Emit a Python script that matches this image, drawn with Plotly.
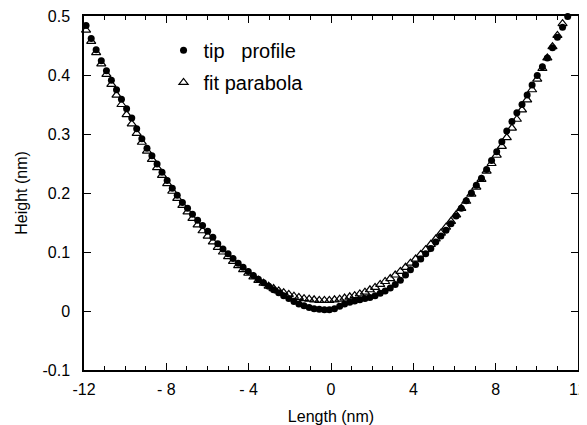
import plotly.graph_objects as go

# Length positions (nm)
length_nm = [
    -11.90, -11.65, -11.41, -11.16, -10.91, -10.67, -10.42, -10.18, -9.93, -9.68,
    -9.44, -9.19, -8.94, -8.70, -8.45, -8.21, -7.96, -7.71, -7.47, -7.22,
    -6.97, -6.73, -6.48, -6.24, -5.99, -5.74, -5.50, -5.25, -5.00, -4.76,
    -4.51, -4.27, -4.02, -3.77, -3.53, -3.28, -3.03, -2.79, -2.54, -2.30,
    -2.05, -1.80, -1.56, -1.31, -1.06, -0.82, -0.57, -0.32, -0.08, 0.17,
    0.42, 0.66, 0.91, 1.15, 1.40, 1.65, 1.89, 2.14, 2.39, 2.63,
    2.88, 3.12, 3.37, 3.62, 3.86, 4.11, 4.36, 4.60, 4.85, 5.09,
    5.34, 5.59, 5.83, 6.08, 6.33, 6.57, 6.82, 7.06, 7.31, 7.56,
    7.80, 8.05, 8.30, 8.54, 8.79, 9.03, 9.28, 9.53, 9.77, 10.02,
    10.27, 10.51, 10.76, 11.00, 11.25, 11.50,
]

# Measured tip profile height (nm)
tip_profile = [
    0.484, 0.462, 0.443, 0.424, 0.407, 0.391, 0.375, 0.359, 0.343, 0.327,
    0.309, 0.292, 0.276, 0.263, 0.249, 0.235, 0.221, 0.208, 0.196, 0.184,
    0.174, 0.164, 0.154, 0.145, 0.135, 0.125, 0.114, 0.105, 0.097, 0.089,
    0.081, 0.074, 0.067, 0.060, 0.054, 0.048, 0.042, 0.036, 0.031, 0.026,
    0.021, 0.016, 0.012, 0.009, 0.006, 0.004, 0.003, 0.002, 0.002, 0.004,
    0.008, 0.012, 0.015, 0.017, 0.019, 0.021, 0.023, 0.026, 0.030, 0.034,
    0.039, 0.045, 0.052, 0.061, 0.070, 0.079, 0.088, 0.097, 0.106, 0.117,
    0.127, 0.137, 0.148, 0.161, 0.174, 0.187, 0.200, 0.213, 0.225, 0.240,
    0.255, 0.270, 0.287, 0.305, 0.321, 0.336, 0.350, 0.366, 0.383, 0.399,
    0.414, 0.429, 0.446, 0.464, 0.481, 0.499,
]

# Fitted parabola height (nm)
fit_parabola = [
    0.476, 0.457, 0.438, 0.419, 0.401, 0.384, 0.366, 0.350, 0.333, 0.317,
    0.301, 0.286, 0.271, 0.257, 0.243, 0.230, 0.216, 0.203, 0.191, 0.179,
    0.168, 0.157, 0.146, 0.136, 0.127, 0.117, 0.108, 0.100, 0.092, 0.084,
    0.077, 0.070, 0.064, 0.058, 0.052, 0.047, 0.042, 0.038, 0.034, 0.031,
    0.028, 0.025, 0.023, 0.021, 0.020, 0.019, 0.018, 0.018, 0.018, 0.019,
    0.020, 0.022, 0.024, 0.026, 0.029, 0.032, 0.036, 0.040, 0.045, 0.050,
    0.055, 0.061, 0.067, 0.074, 0.081, 0.088, 0.096, 0.104, 0.113, 0.122,
    0.132, 0.142, 0.152, 0.163, 0.174, 0.186, 0.198, 0.210, 0.223, 0.237,
    0.250, 0.264, 0.279, 0.294, 0.310, 0.325, 0.341, 0.358, 0.375, 0.393,
    0.411, 0.429, 0.448, 0.467, 0.487, 0.507,
]

x_tick_vals = [-12, -8, -4, 0, 4, 8, 12]
x_tick_text = ["-12", "- 8", "- 4", "0", "4", "8", "12"]
y_tick_vals = [-0.1, 0, 0.1, 0.2, 0.3, 0.4, 0.5]
y_tick_text = ["-0.1", "0", "0.1", "0.2", "0.3", "0.4", "0.5"]

FONT = "Liberation Sans, Arial, Helvetica, sans-serif"

fig = go.Figure()
fig.add_trace(go.Scatter(
    x=length_nm, y=fit_parabola, mode="markers",
    name="fit parabola", legendgroup="b", legendrank=2,
    marker=dict(symbol="triangle-up-open", size=8, color="black",
                line=dict(width=1.2, color="black")),
    cliponaxis=False,
))
fig.add_trace(go.Scatter(
    x=length_nm, y=tip_profile, mode="markers",
    name="tip\u00a0\u00a0\u00a0profile", legendgroup="a", legendrank=1,
    marker=dict(symbol="circle", size=7, color="black"),
    cliponaxis=False,
))

axis_common = dict(
    showline=True, linecolor="black", linewidth=1.5, mirror="ticks",
    ticks="inside", tickcolor="black", tickwidth=1.2, ticklen=7,
    showgrid=False, zeroline=False, automargin=False,
    ticklabeloverflow="allow",
    tickfont=dict(family=FONT, size=16, color="black"),
)

# The page body adds an 8px offset, so the figure is sized to fit the window.
fig.update_layout(
    width=579, height=417,
    margin=dict(l=76, r=9, t=8, b=55),
    paper_bgcolor="white", plot_bgcolor="white",
    font=dict(family=FONT, size=16, color="black"),
    showlegend=True,
    legend=dict(
        x=0.161, y=0.958, xanchor="left", yanchor="top",
        bgcolor="rgba(0,0,0,0)", traceorder="grouped",
        tracegroupgap=3, font=dict(family=FONT, size=20, color="black"),
        itemwidth=30,
    ),
    xaxis=dict(
        range=[-12, 12], tickmode="array", tickvals=x_tick_vals,
        ticktext=x_tick_text, ticklabelstandoff=4,
        minor=dict(dtick=1, ticks="inside", ticklen=4, tickcolor="black",
                   tickwidth=1),
        title=dict(text="Length (nm)", font=dict(family=FONT, size=16),
                   standoff=15),
        **axis_common,
    ),
    yaxis=dict(
        range=[-0.1, 0.5], tickmode="array", tickvals=y_tick_vals,
        ticktext=y_tick_text, ticklabelstandoff=9,
        title=dict(text="Height (nm)", font=dict(family=FONT, size=16),
                   standoff=11),
        **axis_common,
    ),
)

fig.write_html("out.html")
